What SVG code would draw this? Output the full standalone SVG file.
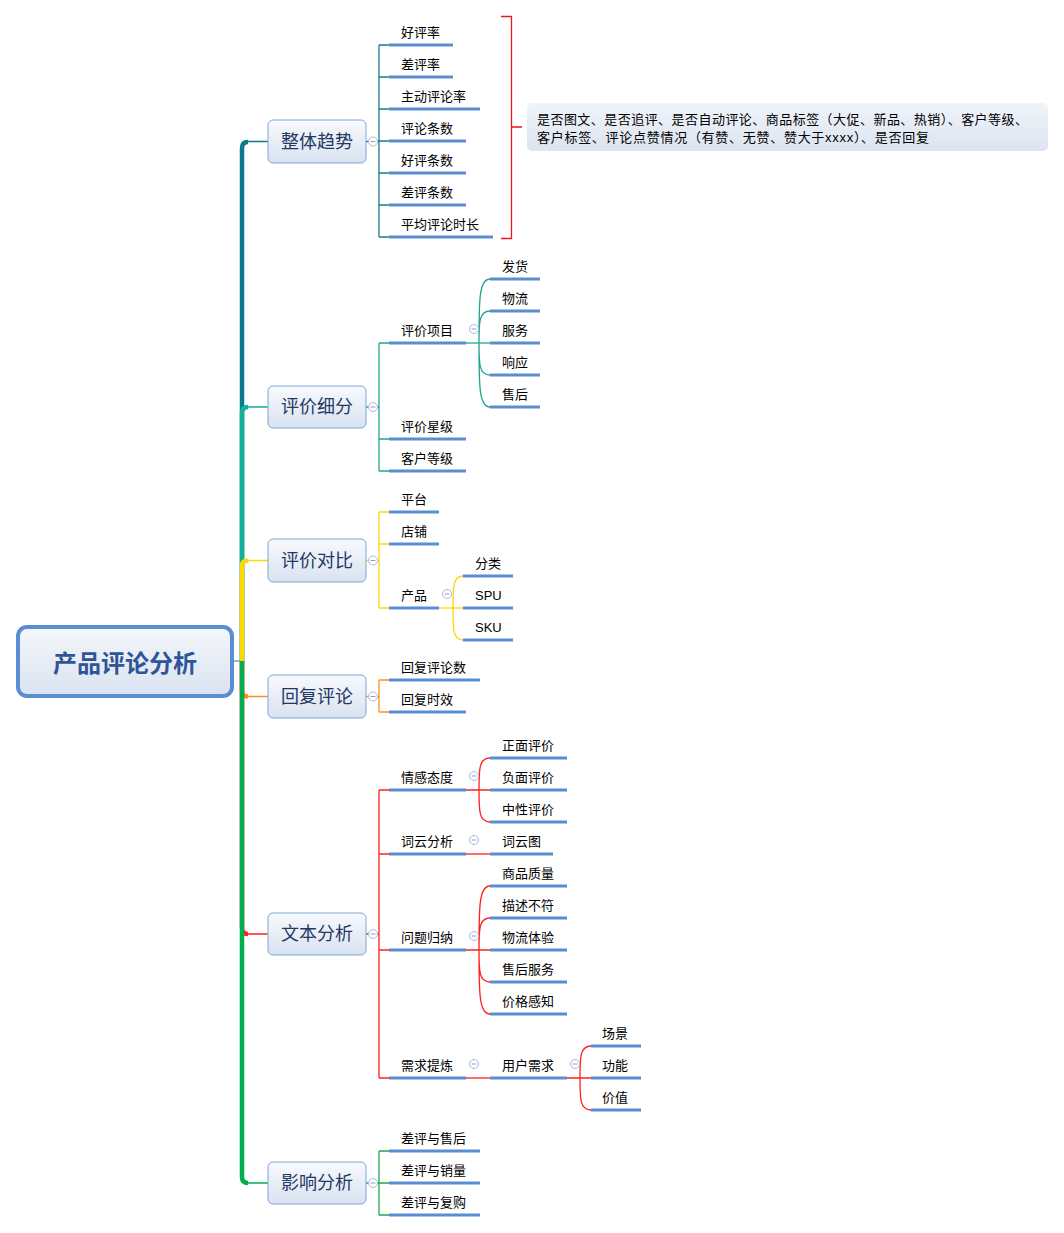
<svg xmlns="http://www.w3.org/2000/svg" width="1064" height="1233" viewBox="0 0 1064 1233">
<style>
.t{font-family:"Liberation Sans","Noto Sans CJK SC",sans-serif;font-size:13px;fill:#000}
.mt{font-family:"Liberation Sans","Noto Sans CJK SC",sans-serif;font-size:18px;fill:#1F3864;text-anchor:middle}
.rt{font-family:"Liberation Sans","Noto Sans CJK SC",sans-serif;font-size:24px;font-weight:bold;fill:#2F5597;text-anchor:middle}
.bar{stroke:#5B8DD3;stroke-width:3;fill:none}
.mn{fill:url(#gN);stroke:#7FA6DA;stroke-width:1}
.c{fill:#fff;stroke:#A9B9DC;stroke-width:1}
.cm{stroke:#8E9FCB;stroke-width:1}
.tr{fill:none;stroke-width:4.5}
.th{fill:none;stroke-width:1.5}
.l{fill:none;stroke-width:1.3}
</style>
<defs>
<linearGradient id="gN" x1="0" y1="0" x2="0" y2="1"><stop offset="0" stop-color="#F8FAFD"/><stop offset="1" stop-color="#D8E2F0"/></linearGradient>
<linearGradient id="gR" x1="0" y1="0" x2="0" y2="1"><stop offset="0" stop-color="#F4F7FB"/><stop offset="1" stop-color="#DAE3F0"/></linearGradient>
<linearGradient id="gB" x1="0" y1="0" x2="0" y2="1"><stop offset="0" stop-color="#F0F4F9"/><stop offset="1" stop-color="#DCE4F0"/></linearGradient>
<g id="col"><circle class="c" cx="0" cy="0" r="4.5"/><line class="cm" x1="-2.5" y1="0" x2="2.5" y2="0"/></g>
</defs>

<g id="connectors">
  <!-- trunk -->
  <path d="M233,661 H242" class="l" stroke="#5B8DD3"/>
  <path d="M242,661 V148 Q242,142 248,142" class="tr" stroke="#0B7A8F"/>
  <path d="M246,141.5 H268" class="th" stroke="#0B7A8F"/>
  <path d="M242,661 V413 Q242,407 248,407" class="tr" stroke="#12B09A"/>
  <path d="M246,407 H268" class="th" stroke="#12B09A"/>
  <path d="M242,661 V566 Q242,560.5 248,560.5" class="tr" stroke="#FFD800"/>
  <path d="M246,560.5 H268" class="th" stroke="#FFD800"/>
  <path d="M242,661 V691 Q242,696.5 248,696.5" class="tr" stroke="#F7941D"/>
  <path d="M246,696.5 H268" class="th" stroke="#F7941D"/>
  <path d="M242,661 V928 Q242,934 248,934" class="tr" stroke="#FF1F1F"/>
  <path d="M246,934 H268" class="th" stroke="#FF1F1F"/>
  <path d="M242,661 V1177 Q242,1183 248,1183" class="tr" stroke="#00AE4F"/>
  <path d="M246,1183 H268" class="th" stroke="#00AE4F"/>

  <!-- 整体趋势 children -->
  <g stroke="#1A7A8F" class="l">
    <path d="M366,141.5 H379 M379,45 V237 M379,45 H389 M379,77 H389 M379,109 H389 M379,141 H389 M379,173 H389 M379,205 H389 M379,237 H389"/>
  </g>
  <path d="M501,16.5 H511.5 V238.5 H501 M511.5,127 H522" fill="none" stroke="#E8191C" stroke-width="1.3"/>

  <!-- 评价细分 -->
  <g stroke="#22A58E" class="l">
    <path d="M366,407 H379 M379,343 V471 M379,343 H389 M379,439 H389 M379,471 H389"/>
    <path d="M466,343 H490"/>
    <path d="M479,343 C479,300 479,279 490,279 M479,343 C479,322 479,311 490,311 M479,343 C479,364 479,375 490,375 M479,343 C479,386 479,407 490,407"/>
  </g>

  <!-- 评价对比 -->
  <g stroke="#FFD800" class="l">
    <path d="M366,560.5 H379 M379,512 V608 M379,512 H389 M379,544 H389 M379,608 H389"/>
    <path d="M439,608 H463"/>
    <path d="M453,608 C453,587 453,576 463,576 M453,608 C453,629 453,640 463,640"/>
  </g>

  <!-- 回复评论 -->
  <g stroke="#F7941D" class="l">
    <path d="M366,696.5 H379 M379,680 V712 M379,680 H389 M379,712 H389"/>
  </g>

  <!-- 文本分析 -->
  <g stroke="#FF1F1F" class="l">
    <path d="M366,934 H379 M379,790 V1078 M379,790 H389 M379,854 H389 M379,950 H389 M379,1078 H389"/>
    <path d="M466,790 H490 M479,790 C479,769 479,758 490,758 M479,790 C479,811 479,822 490,822"/>
    <path d="M466,854 H490"/>
    <path d="M466,950 H490 M479,950 C479,907 479,886 490,886 M479,950 C479,929 479,918 490,918 M479,950 C479,971 479,982 490,982 M479,950 C479,993 479,1014 490,1014"/>
    <path d="M466,1078 H490"/>
    <path d="M567,1078 H591 M580,1078 C580,1057 580,1046 591,1046 M580,1078 C580,1099 580,1110 591,1110"/>
  </g>

  <!-- 影响分析 -->
  <g stroke="#1FA64A" class="l">
    <path d="M366,1183 H379 M379,1151 V1215 M379,1151 H389 M379,1183 H389 M379,1215 H389"/>
  </g>
</g>

<!-- root -->
<g id="root">
  <rect x="18" y="627" width="214" height="69" rx="9" fill="url(#gR)" stroke="#5B8DD3" stroke-width="4"/>
  <text class="rt" x="125" y="672">产品评论分析</text>
</g>

<!-- 整体趋势 -->
<g id="n-zhengti">
  <rect class="mn" x="268" y="120" width="98" height="43" rx="5"/>
  <text class="mt" x="317" y="148">整体趋势</text>
  <use href="#col" x="373" y="141.5"/>
</g>
<g id="n-zhengti-children">
  <g id="c-haopinglv"><path class="bar" d="M389,45 H453"/><text class="t" x="401" y="37">好评率</text></g>
  <g id="c-chapinglv"><path class="bar" d="M389,77 H453"/><text class="t" x="401" y="69">差评率</text></g>
  <g id="c-zhudong"><path class="bar" d="M389,109 H480"/><text class="t" x="401" y="101">主动评论率</text></g>
  <g id="c-pinglun"><path class="bar" d="M389,141 H466"/><text class="t" x="401" y="133">评论条数</text></g>
  <g id="c-haoping"><path class="bar" d="M389,173 H466"/><text class="t" x="401" y="165">好评条数</text></g>
  <g id="c-chaping"><path class="bar" d="M389,205 H466"/><text class="t" x="401" y="197">差评条数</text></g>
  <g id="c-pingjun"><path class="bar" d="M389,237 H493"/><text class="t" x="401" y="229">平均评论时长</text></g>
</g>
<g id="note">
  <rect x="527" y="103" width="521" height="48" rx="5" fill="url(#gB)"/>
  <text class="t" x="537" y="124" textLength="491" lengthAdjust="spacing">是否图文、是否追评、是否自动评论、商品标签（大促、新品、热销）、客户等级、</text>
  <text class="t" x="537" y="142" textLength="392" lengthAdjust="spacing">客户标签、评论点赞情况（有赞、无赞、赞大于xxxx）、是否回复</text>
</g>

<!-- 评价细分 -->
<g id="n-xifen">
  <rect class="mn" x="268" y="386" width="98" height="42" rx="5"/>
  <text class="mt" x="317" y="413">评价细分</text>
  <use href="#col" x="373" y="407"/>
</g>
<g id="n-xifen-children">
  <g id="c-xiangmu"><path class="bar" d="M389,343 H466"/><text class="t" x="401" y="335">评价项目</text><use href="#col" x="474" y="329"/></g>
  <g id="c-fahuo"><path class="bar" d="M490,279 H540"/><text class="t" x="502" y="271">发货</text></g>
  <g id="c-wuliu"><path class="bar" d="M490,311 H540"/><text class="t" x="502" y="303">物流</text></g>
  <g id="c-fuwu"><path class="bar" d="M490,343 H540"/><text class="t" x="502" y="335">服务</text></g>
  <g id="c-xiangying"><path class="bar" d="M490,375 H540"/><text class="t" x="502" y="367">响应</text></g>
  <g id="c-shouhou"><path class="bar" d="M490,407 H540"/><text class="t" x="502" y="399">售后</text></g>
  <g id="c-xingji"><path class="bar" d="M389,439 H466"/><text class="t" x="401" y="431">评价星级</text></g>
  <g id="c-kehu"><path class="bar" d="M389,471 H466"/><text class="t" x="401" y="463">客户等级</text></g>
</g>

<!-- 评价对比 -->
<g id="n-duibi">
  <rect class="mn" x="268" y="539" width="98" height="43" rx="5"/>
  <text class="mt" x="317" y="567">评价对比</text>
  <use href="#col" x="373" y="560.5"/>
</g>
<g id="n-duibi-children">
  <g id="c-pingtai"><path class="bar" d="M389,512 H439"/><text class="t" x="401" y="504">平台</text></g>
  <g id="c-dianpu"><path class="bar" d="M389,544 H439"/><text class="t" x="401" y="536">店铺</text></g>
  <g id="c-chanpin"><path class="bar" d="M389,608 H439"/><text class="t" x="401" y="600">产品</text><use href="#col" x="447" y="594"/></g>
  <g id="c-fenlei"><path class="bar" d="M463,576 H513"/><text class="t" x="475" y="568">分类</text></g>
  <g id="c-spu"><path class="bar" d="M463,608 H513"/><text class="t" x="475" y="600">SPU</text></g>
  <g id="c-sku"><path class="bar" d="M463,640 H513"/><text class="t" x="475" y="632">SKU</text></g>
</g>

<!-- 回复评论 -->
<g id="n-huifu">
  <rect class="mn" x="268" y="675" width="98" height="43" rx="5"/>
  <text class="mt" x="317" y="703">回复评论</text>
  <use href="#col" x="373" y="696.5"/>
</g>
<g id="n-huifu-children">
  <g id="c-huifushu"><path class="bar" d="M389,680 H480"/><text class="t" x="401" y="672">回复评论数</text></g>
  <g id="c-shixiao"><path class="bar" d="M389,712 H466"/><text class="t" x="401" y="704">回复时效</text></g>
</g>

<!-- 文本分析 -->
<g id="n-wenben">
  <rect class="mn" x="268" y="913" width="98" height="42" rx="5"/>
  <text class="mt" x="317" y="940">文本分析</text>
  <use href="#col" x="373" y="934"/>
</g>
<g id="n-wenben-children">
  <g id="c-qinggan"><path class="bar" d="M389,790 H466"/><text class="t" x="401" y="782">情感态度</text><use href="#col" x="474" y="776"/></g>
  <g id="c-zhengmian"><path class="bar" d="M490,758 H567"/><text class="t" x="502" y="750">正面评价</text></g>
  <g id="c-fumian"><path class="bar" d="M490,790 H567"/><text class="t" x="502" y="782">负面评价</text></g>
  <g id="c-zhongxing"><path class="bar" d="M490,822 H567"/><text class="t" x="502" y="814">中性评价</text></g>
  <g id="c-ciyun"><path class="bar" d="M389,854 H466"/><text class="t" x="401" y="846">词云分析</text><use href="#col" x="474" y="840"/></g>
  <g id="c-ciyuntu"><path class="bar" d="M490,854 H553"/><text class="t" x="502" y="846">词云图</text></g>
  <g id="c-wenti"><path class="bar" d="M389,950 H466"/><text class="t" x="401" y="942">问题归纳</text><use href="#col" x="474" y="936"/></g>
  <g id="c-zhiliang"><path class="bar" d="M490,886 H567"/><text class="t" x="502" y="878">商品质量</text></g>
  <g id="c-miaoshu"><path class="bar" d="M490,918 H567"/><text class="t" x="502" y="910">描述不符</text></g>
  <g id="c-wuliutiyan"><path class="bar" d="M490,950 H567"/><text class="t" x="502" y="942">物流体验</text></g>
  <g id="c-shouhoufuwu"><path class="bar" d="M490,982 H567"/><text class="t" x="502" y="974">售后服务</text></g>
  <g id="c-jiage"><path class="bar" d="M490,1014 H567"/><text class="t" x="502" y="1006">价格感知</text></g>
  <g id="c-xuqiu"><path class="bar" d="M389,1078 H466"/><text class="t" x="401" y="1070">需求提炼</text><use href="#col" x="474" y="1064"/></g>
  <g id="c-yonghu"><path class="bar" d="M490,1078 H567"/><text class="t" x="502" y="1070">用户需求</text><use href="#col" x="575" y="1064"/></g>
  <g id="c-changjing"><path class="bar" d="M591,1046 H641"/><text class="t" x="602" y="1038">场景</text></g>
  <g id="c-gongneng"><path class="bar" d="M591,1078 H641"/><text class="t" x="602" y="1070">功能</text></g>
  <g id="c-jiazhi"><path class="bar" d="M591,1110 H641"/><text class="t" x="602" y="1102">价值</text></g>
</g>

<!-- 影响分析 -->
<g id="n-yingxiang">
  <rect class="mn" x="268" y="1162" width="98" height="42" rx="5"/>
  <text class="mt" x="317" y="1189">影响分析</text>
  <use href="#col" x="373" y="1183"/>
</g>
<g id="n-yingxiang-children">
  <g id="c-shouhou2"><path class="bar" d="M389,1151 H480"/><text class="t" x="401" y="1143">差评与售后</text></g>
  <g id="c-xiaoliang"><path class="bar" d="M389,1183 H480"/><text class="t" x="401" y="1175">差评与销量</text></g>
  <g id="c-fugou"><path class="bar" d="M389,1215 H480"/><text class="t" x="401" y="1207">差评与复购</text></g>
</g>
</svg>
